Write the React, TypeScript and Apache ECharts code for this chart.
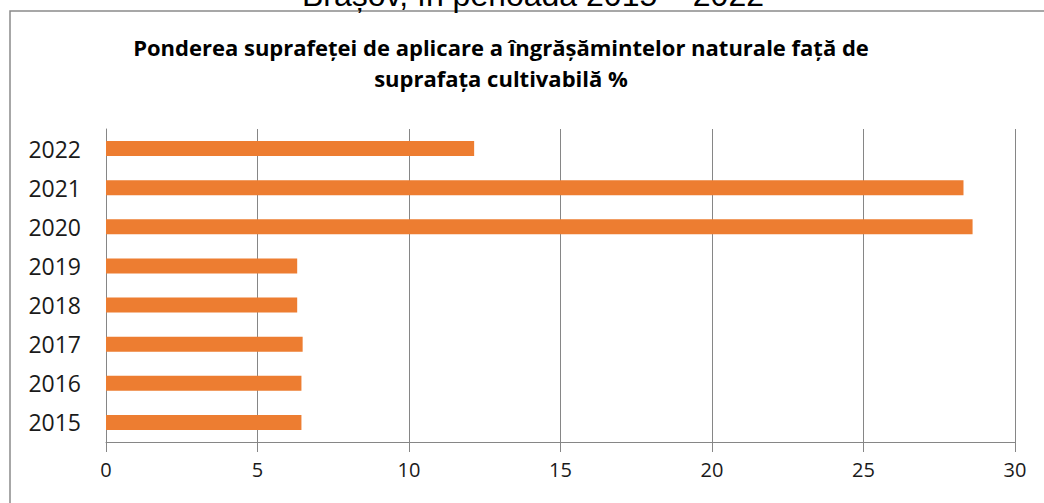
import React, { useEffect, useRef } from "react";
import * as echarts from "echarts";

const years = ["2015", "2016", "2017", "2018", "2019", "2020", "2021", "2022"];
const values = [6.45, 6.45, 6.49, 6.31, 6.31, 28.6, 28.3, 12.15];
const titleLines = [
  "Ponderea suprafeței de aplicare a îngrășămintelor naturale față de",
  "suprafața cultivabilă %",
];
const topCaption = "Brașov, în perioada 2015 – 2022";

export default function App() {
  const ref = useRef<HTMLDivElement>(null);
  useEffect(() => {
    if (!ref.current) return;
    const chart = echarts.init(ref.current, undefined, { renderer: "svg" });
    chart.setOption({
      animation: false,
      backgroundColor: "#ffffff",
      grid: { left: 106, right: 29, top: 129, bottom: 61 },
      graphic: [
        {
          type: "text",
          x: 533,
          y: 11,
          style: {
            text: topCaption,
            font: "32px 'Liberation Sans'",
            fill: "#000",
            align: "center",
            verticalAlign: "bottom",
          },
        },
        {
          type: "rect",
          shape: { x: 10, y: 11, width: 1100, height: 600 },
          style: { fill: "none", stroke: "#8a8a8a", lineWidth: 1.5 },
          z: -1,
        },
        {
          type: "text",
          x: 501,
          y: 47,
          style: {
            text: titleLines[0],
            font: "bold 22px 'Open Sans'",
            fill: "#000",
            align: "center",
            verticalAlign: "middle",
          },
        },
        {
          type: "text",
          x: 501,
          y: 78,
          style: {
            text: titleLines[1],
            font: "bold 22px 'Open Sans'",
            fill: "#000",
            align: "center",
            verticalAlign: "middle",
          },
        },
      ],
      xAxis: {
        type: "value",
        min: 0,
        max: 30,
        interval: 5,
        axisLine: { show: true, lineStyle: { color: "#868686", width: 1 } },
        axisTick: { show: true, length: 10, lineStyle: { color: "#868686" } },
        splitLine: { show: true, lineStyle: { color: "#868686", width: 1 } },
        axisLabel: { color: "#1a1a1a", fontSize: 20, fontFamily: "Open Sans", margin: 17 },
      },
      yAxis: {
        type: "category",
        data: years,
        axisLine: { show: true, lineStyle: { color: "#868686" } },
        axisTick: { show: false },
        axisLabel: { color: "#1a1a1a", fontSize: 23, fontFamily: "Open Sans", margin: 25 },
      },
      series: [
        {
          type: "bar",
          data: values,
          barWidth: 15,
          itemStyle: { color: "#ED7D31" },
        },
      ],
    });
    return () => chart.dispose();
  }, []);
  return (
    <div
      ref={ref}
      style={{ position: "fixed", left: 0, top: 0, width: 1044, height: 503 }}
    />
  );
}
